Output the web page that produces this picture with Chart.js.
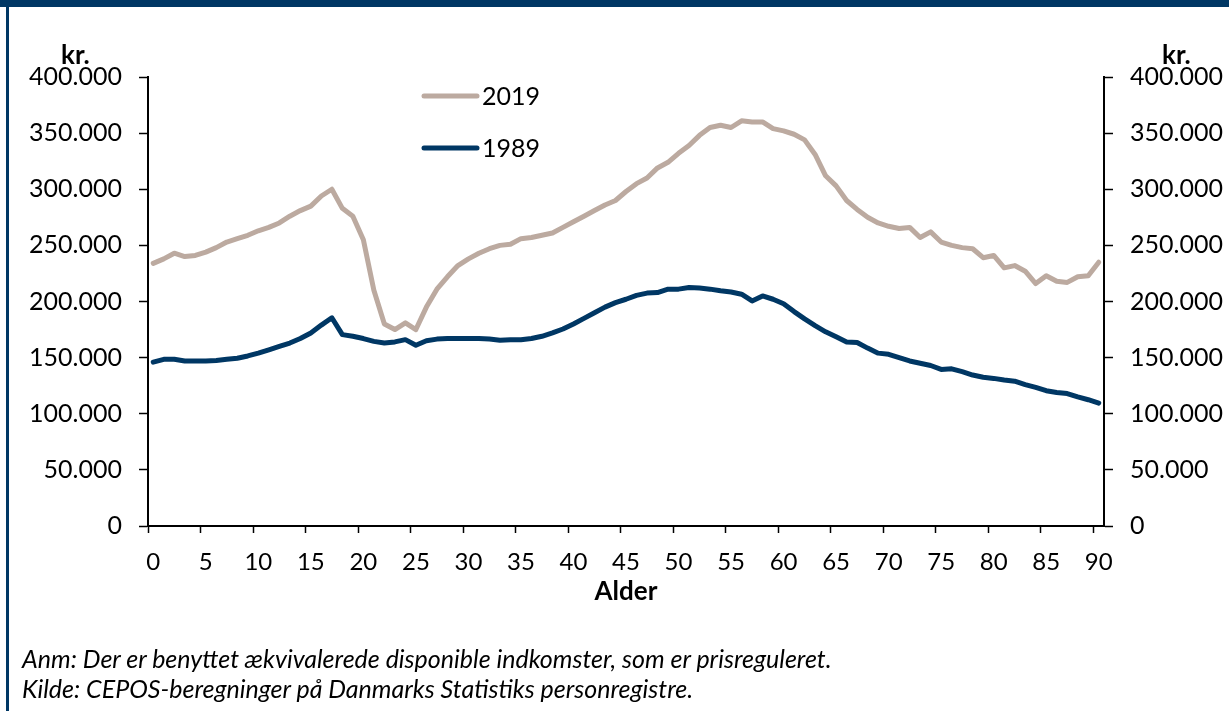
<!DOCTYPE html>
<html>
<head>
<meta charset="utf-8">
<script src="https://cdn.jsdelivr.net/npm/chart.js@4"></script>
<style>
  html, body { margin: 0; padding: 0; background: #fff; }
  #wrap { position: relative; width: 1229px; height: 711px; overflow: hidden; font-family: Lato, "Open Sans", sans-serif; color: #000; }
  #topbar { position: absolute; left: 0; top: 0; width: 1229px; height: 7px; background: #003764; }
  #leftbar { position: absolute; left: 6px; top: 0; width: 3px; height: 711px; background: #003764; }
  canvas { position: absolute; left: 0; top: 0; }
  .unit { position: absolute; font-weight: bold; font-size: 26px; line-height: 26px; }
  .note { position: absolute; left: 22px; font-style: italic; font-size: 25px; line-height: 24px; white-space: nowrap; }
</style>
</head>
<body>
<div id="wrap">
  <canvas id="c" width="1229" height="711"></canvas>
  <div id="topbar"></div>
  <div id="leftbar"></div>
  <div class="unit" style="left:61px; top:41px;">kr.</div>
  <div class="unit" style="left:1162px; top:41px;">kr.</div>
  <div class="note" style="top:646px;">Anm: Der er benyttet ækvivalerede disponible indkomster, som er prisreguleret.</div>
  <div class="note" style="top:676px;">Kilde: CEPOS-beregninger på Danmarks Statistiks personregistre.</div>
</div>
<script>
// Ages 0..90
const ages = Array.from({length: 91}, (_, i) => String(i));

// Equivalised disposable income by age, 2019 (kr.)
const income2019 = [
  234000, 238000, 243000, 240000, 241000, 244000, 248000, 253000, 256000, 259000,
  263000, 266000, 270000, 276000, 281000, 285000, 294000, 300000, 283000, 276000,
  255000, 210000, 180000, 175000, 181000, 175000, 195000, 211000, 222000, 232000,
  238000, 243000, 247000, 250000, 251000, 256000, 257000, 259000, 261000, 266000,
  271000, 276000, 281000, 286000, 290000, 298000, 305000, 310000, 319000, 324000,
  332000, 339000, 348000, 355000, 357000, 355000, 361000, 360000, 360000, 354000,
  352000, 349000, 344000, 331000, 312000, 303000, 290000, 282000, 275000, 270000,
  267000, 265000, 266000, 257000, 262000, 253000, 250000, 248000, 247000, 239000,
  241000, 230000, 232000, 227000, 216000, 223000, 218000, 217000, 222000, 223000,
  235000
];

// Equivalised disposable income by age, 1989 (kr.)
const income1989 = [
  146000, 148500, 148500, 147000, 147000, 147000, 147500, 148500, 149500, 151500,
  154000, 157000, 160000, 163000, 167000, 172000, 179000, 185500, 170500, 169000,
  167000, 164500, 163000, 164000, 166000, 161000, 165000, 166500, 167000, 167000,
  167000, 167000, 166500, 165500, 166000, 166000, 167000, 169000, 172000, 175500,
  180000, 185000, 190000, 195000, 199000, 202000, 205500, 207500, 208000, 211000,
  211000, 212500, 212000, 211000, 209500, 208500, 206500, 200500, 205000, 202000,
  198000, 191000, 184500, 178500, 173000, 168500, 164000, 163500, 158500, 154000,
  153000, 150000, 147000, 145000, 143000, 139500, 140000, 137500, 134500, 132500,
  131500, 130000, 129000, 126000, 123500, 120500, 119000, 118000, 115000, 112500,
  109500
];

const seriesNames = ['2019', '1989'];
const yTicks = [0, 50000, 100000, 150000, 200000, 250000, 300000, 350000, 400000];

const fmt = v => String(v).replace(/\B(?=(\d{3})+(?!\d))/g, '.');

Chart.defaults.font.family = 'Lato, "Open Sans", sans-serif';
Chart.defaults.color = '#000';

const legendPlugin = {
  id: 'customLegend',
  afterDraw(chart) {
    const ctx = chart.ctx;
    const items = chart.data.datasets;
    const x0 = 424, x1 = 477, tx = 482;
    const ys = [96, 148];
    ctx.save();
    items.forEach((ds, i) => {
      ctx.strokeStyle = ds.borderColor;
      ctx.lineWidth = 5;
      ctx.lineCap = 'round';
      ctx.beginPath();
      ctx.moveTo(x0, ys[i]);
      ctx.lineTo(x1, ys[i]);
      ctx.stroke();
      ctx.fillStyle = '#000';
      ctx.font = '25px Lato, "Open Sans", sans-serif';
      ctx.textBaseline = 'middle';
      ctx.textAlign = 'left';
      ctx.fillText(ds.label, tx, ys[i] + 1);
    });
    ctx.restore();
  }
};

new Chart(document.getElementById('c'), {
  type: 'line',
  data: {
    labels: ages,
    datasets: [
      { label: seriesNames[0], data: income2019, borderColor: '#bcaaa0', borderWidth: 5, pointRadius: 0, tension: 0, borderCapStyle: 'round', borderJoinStyle: 'round', yAxisID: 'y' },
      { label: seriesNames[1], data: income1989, borderColor: '#003764', borderWidth: 5, pointRadius: 0, tension: 0, borderCapStyle: 'round', borderJoinStyle: 'round', yAxisID: 'y' }
    ]
  },
  options: {
    responsive: false,
    animation: false,
    devicePixelRatio: 1,
    layout: { padding: { left: 0, right: 0, top: 77, bottom: 104 } },
    plugins: { legend: { display: false }, tooltip: { enabled: false } },
    scales: {
      x: {
        type: 'category',
        offset: true,
        grid: {
          offset: true,
          drawOnChartArea: false,
          tickLength: 7,
          tickWidth: 1.5,
          tickColor: c => (c.index % 5 === 0 ? '#000' : 'rgba(0,0,0,0)')
        },
        border: { display: true, color: '#000', width: 2 },
        ticks: {
          autoSkip: false,
          maxRotation: 0,
          padding: 15,
          font: { size: 24 },
          callback: (v, i) => (i % 5 === 0 ? ages[i] : '')
        },
        title: { display: true, text: 'Alder', font: { size: 26, weight: 'bold' }, padding: { top: 0, bottom: 0 } },
        afterFit: s => { s.height = 81; }
      },
      y: {
        position: 'left',
        min: 0, max: 400000,
        afterBuildTicks: s => { s.ticks = yTicks.map(v => ({ value: v })); },
        grid: { drawOnChartArea: false, tickLength: 9, tickWidth: 1.5, tickColor: '#000' },
        border: { display: true, color: '#000', width: 2 },
        ticks: { padding: 17, font: { size: 25 }, callback: v => fmt(v) },
        afterFit: s => { s.width = 148; }
      },
      y2: {
        position: 'right',
        display: true,
        min: 0, max: 400000,
        afterBuildTicks: s => { s.ticks = yTicks.map(v => ({ value: v })); },
        grid: { drawOnChartArea: false, tickLength: 9, tickWidth: 1.5, tickColor: '#000' },
        border: { display: true, color: '#000', width: 2 },
        ticks: { padding: 17, font: { size: 25 }, callback: v => fmt(v) },
        afterFit: s => { s.width = 125; }
      }
    }
  },
  plugins: [legendPlugin]
});
</script>
</body>
</html>
